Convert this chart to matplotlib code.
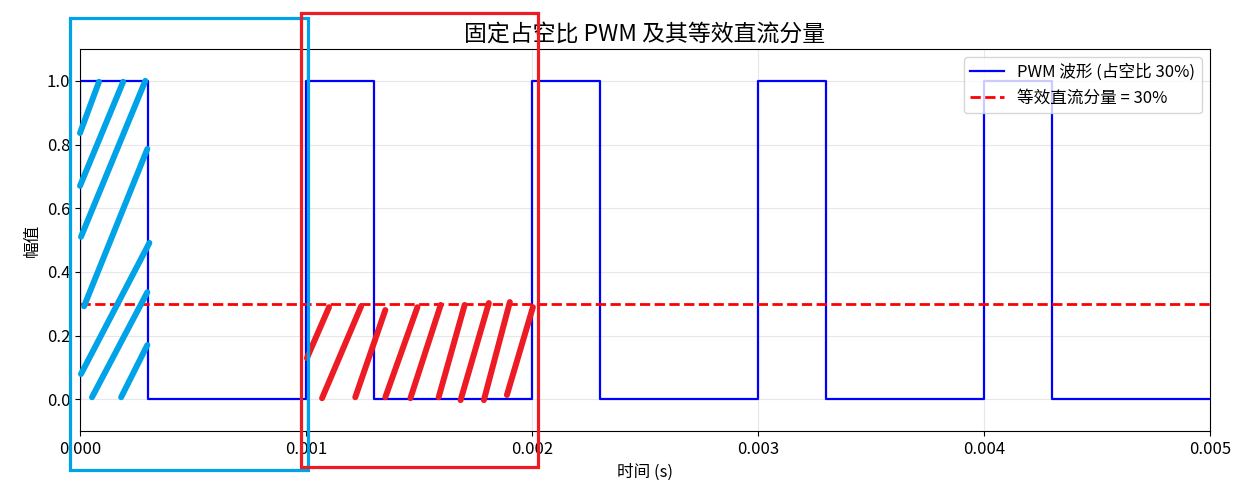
import matplotlib
matplotlib.use("Agg")
import matplotlib.pyplot as plt
from matplotlib.patches import Rectangle
from matplotlib.ticker import FormatStrFormatter

plt.rcParams['font.family'] = ['Noto Sans CJK SC', 'DejaVu Sans']
plt.rcParams['axes.unicode_minus'] = False

# PWM data: rising edges (s), high time (s), levels
rising_edges = [0.000, 0.001, 0.002, 0.003, 0.004]
high_time = 0.0003
t_end = 0.005
level_high = 1.0
level_low = 0.0
dc_level = 0.3

# hand-drawn annotation strokes, data coords ((x0, y0), (x1, y1))
blue_strokes = [
    ((0.0000000, 0.836), (0.0000840, 0.997)),
    ((0.0000000, 0.670), (0.0001910, 0.997)),
    ((0.0000044, 0.510), (0.0002890, 1.000)),
    ((0.0000180, 0.292), (0.0002980, 0.786)),
    ((0.0000044, 0.079), (0.0003070, 0.491)),
    ((0.0000530, 0.006), (0.0002980, 0.336)),
    ((0.0001820, 0.006), (0.0002980, 0.170)),
]
red_strokes = [
    ((0.001004, 0.129), (0.001102, 0.289)),
    ((0.001071, 0.003), (0.001244, 0.292)),
    ((0.001218, 0.006), (0.001351, 0.280)),
    ((0.001351, 0.006), (0.001493, 0.289)),
    ((0.001462, 0.003), (0.001596, 0.296)),
    ((0.001587, 0.006), (0.001702, 0.296)),
    ((0.001684, -0.003), (0.001809, 0.302)),
    ((0.001787, -0.003), (0.001902, 0.305)),
    ((0.001889, 0.013), (0.002004, 0.289)),
]
# annotation boxes: (x0, y0, x1, y1) in data coords
blue_box = (-0.0000444, -0.223, 0.001009, 1.198)
red_box = (0.000978, -0.214, 0.002027, 1.214)

# build the step waveform from the edges
t, y = [], []
for r in rising_edges:
    t += [r, r, r + high_time, r + high_time]
    y += [level_low, level_high, level_high, level_low]
t.append(t_end)
y.append(level_low)

fig, ax = plt.subplots(figsize=(12.5, 5), dpi=100)
fig.subplots_adjust(left=0.064, right=0.968, top=0.902, bottom=0.138)

ax.plot(t, y, color='blue', linewidth=1.6, label='PWM 波形 (占空比 30%)')
ax.axhline(dc_level, color='red', linestyle='--', linewidth=2, label='等效直流分量 = 30%')

ax.set_xlim(0, 0.005)
ax.set_ylim(-0.1, 1.1)
ax.set_xticks([0.000, 0.001, 0.002, 0.003, 0.004, 0.005])
ax.set_yticks([0.0, 0.2, 0.4, 0.6, 0.8, 1.0])
ax.xaxis.set_major_formatter(FormatStrFormatter('%.3f'))
ax.yaxis.set_major_formatter(FormatStrFormatter('%.1f'))
ax.tick_params(labelsize=12)
ax.grid(True, alpha=0.3)

ax.set_title('固定占空比 PWM 及其等效直流分量', fontsize=16.5)
ax.set_xlabel('时间 (s)', fontsize=12)
ax.set_ylabel('幅值', fontsize=12)
ax.legend(loc='upper right', fontsize=12)

# annotations
for (x0, y0), (x1, y1) in blue_strokes:
    ax.plot([x0, x1], [y0, y1], color='#00A2E8', linewidth=4.3,
            solid_capstyle='round', clip_on=False, zorder=5)
for (x0, y0), (x1, y1) in red_strokes:
    ax.plot([x0, x1], [y0, y1], color='#ED1C24', linewidth=4.3,
            solid_capstyle='round', clip_on=False, zorder=5)
for box, col in [(blue_box, '#00A2E8'), (red_box, '#ED1C24')]:
    ax.add_patch(Rectangle((box[0], box[1]), box[2] - box[0], box[3] - box[1],
                           fill=False, edgecolor=col, linewidth=2.3,
                           clip_on=False, zorder=6))

fig.savefig('out.png', dpi=100)
